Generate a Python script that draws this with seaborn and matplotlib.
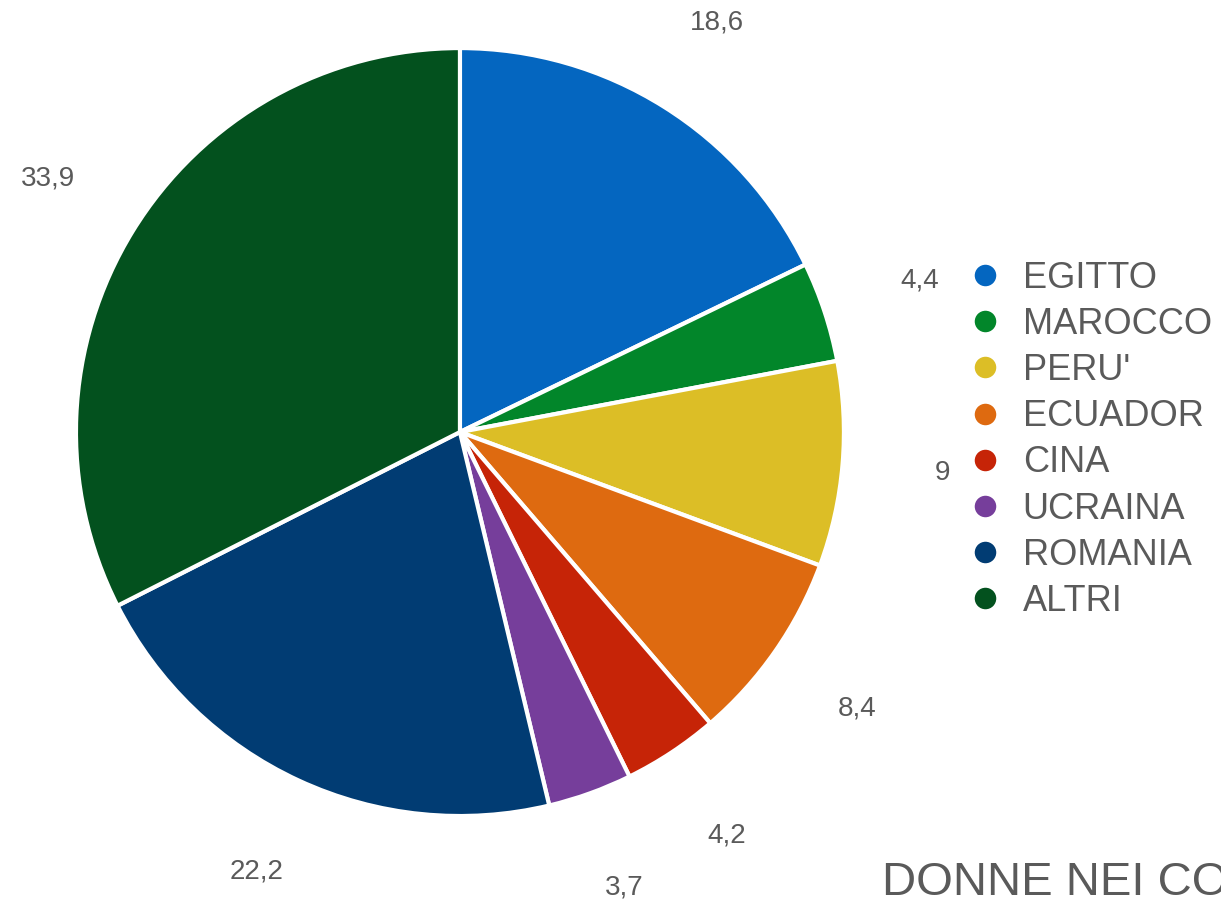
import matplotlib
matplotlib.use('Agg')
import matplotlib.pyplot as plt
from matplotlib.lines import Line2D
import seaborn as sns

# data
countries = ["EGITTO", "MAROCCO", "PERU'", "ECUADOR", "CINA", "UCRAINA", "ROMANIA", "ALTRI"]
values = [18.6, 4.4, 9, 8.4, 4.2, 3.7, 22.2, 33.9]
value_labels = ["18,6", "4,4", "9", "8,4", "4,2", "3,7", "22,2", "33,9"]
colors = ["#0466C0", "#02862A", "#DCBE26", "#DE6A10", "#C62407", "#763E9B", "#013C73", "#03511E"]
title = "DONNE NEI CONSULTORI"

sns.set_style("white")
plt.rcParams['font.family'] = ['Liberation Sans', 'DejaVu Sans']
text_color = "#5a5a5a"

fig = plt.figure(figsize=(12.21, 9.07), dpi=100)
ax = fig.add_axes([0.0622, 0.1003, 0.629, 0.8467])

wedges, texts = ax.pie(
    values,
    labels=value_labels,
    colors=colors,
    startangle=90,
    counterclock=False,
    labeldistance=1.26,
    radius=1,
    wedgeprops={"edgecolor": "white", "linewidth": 3},
    textprops={"fontsize": 20, "color": text_color},
)
for t in texts:
    t.set_ha("center")
    t.set_va("center")
ax.set_xlim(-1, 1)
ax.set_ylim(-1, 1)
ax.set_aspect("equal")

handles = [Line2D([0], [0], marker="o", linestyle="", markersize=17,
                  markerfacecolor=c, markeredgecolor="white", markeredgewidth=1.5)
           for c in colors]
fig.legend(handles, countries, loc="center left", bbox_to_anchor=(0.777, 0.515),
           frameon=False, fontsize=26, labelcolor=text_color,
           handletextpad=0.55, labelspacing=0.31, handlelength=1.0, borderpad=0)

fig.text(882 / 1221, 0.013, title, fontsize=34, color=text_color,
         ha="left", va="baseline")

fig.savefig("out.png", dpi=100)
